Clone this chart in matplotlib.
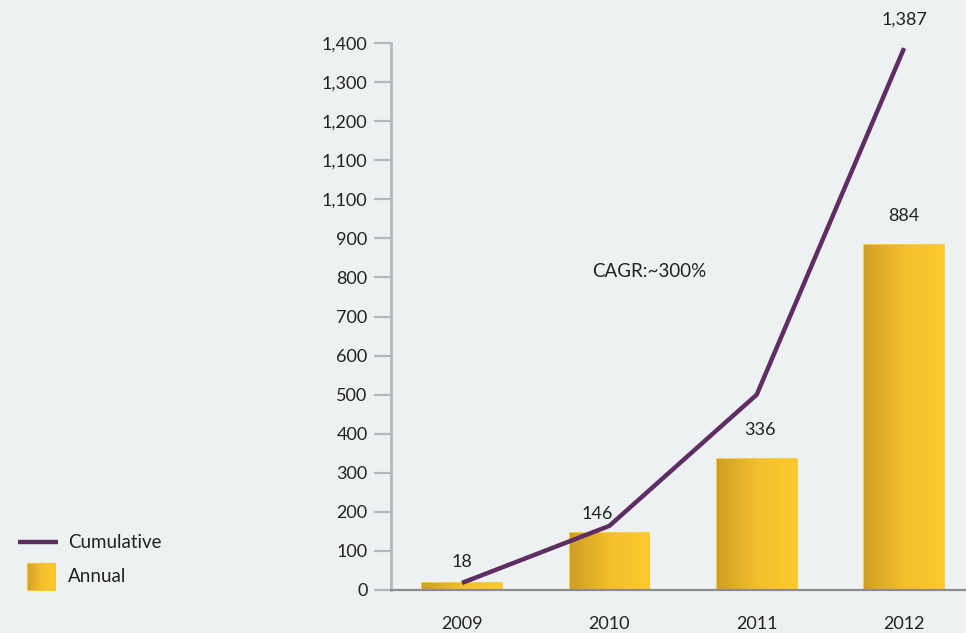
import matplotlib.pyplot as plt
import numpy as np
from matplotlib.lines import Line2D
from matplotlib.colors import LinearSegmentedColormap

# Data
years = ['2009', '2010', '2011', '2012']
annual = [18, 146, 336, 884]
cumulative = [18, 164, 500, 1387]
annual_labels = ['18', '146', '336', '884']
cum_label = '1,387'
yticks = [0, 100, 200, 300, 400, 500, 600, 700, 800, 900, 1000, 1100, 1200, 1300, 1400]
ytick_labels = ['0', '100', '200', '300', '400', '500', '600', '700', '800', '900',
                '1,100', '1,100', '1,200', '1,300', '1,400']

plt.rcParams['font.family'] = ['Lato', 'DejaVu Sans']
bg = '#eef1f2'
purple = '#5e2d62'
txt = '#222222'

fig = plt.figure(figsize=(9.66, 6.33), dpi=100, facecolor=bg)
ax = fig.add_axes([0.405, 0.068, 0.595, 0.864], facecolor=bg)

x = np.arange(len(years))
bars = ax.bar(x, annual, width=0.54, color='#f0bb2a', edgecolor='#f7c62c', linewidth=1.2, zorder=2)

# gradient fill on bars
grad = np.linspace(0, 1, 256).reshape(1, -1)
cmap = LinearSegmentedColormap.from_list('g', ['#cf9f25', '#f3bf2c', '#fec92e'])
for b in bars:
    x0, w, h = b.get_x(), b.get_width(), b.get_height()
    im = ax.imshow(grad, cmap=cmap, extent=[x0, x0 + w, 0, h], aspect='auto', zorder=2.5)
    im.set_clip_path(b)

ax.plot(x, cumulative, color=purple, linewidth=3.2, solid_capstyle='butt', zorder=3)

# value labels
label_dx = [0, -0.08, 0.02, 0]
label_y = [72, 195, 410, 958]
for i, lab in enumerate(annual_labels):
    ax.text(x[i] + label_dx[i], label_y[i], lab, ha='center', va='center', fontsize=13, color=txt)
ax.text(x[3], 1460, cum_label, ha='center', va='center', fontsize=13, color=txt, clip_on=False)
ax.text(0.885, 814, 'CAGR:~300%', ha='left', va='center', fontsize=13.5, color=txt)

ax.set_xlim(-0.48, 3.42)
ax.set_ylim(0, 1400)
ax.set_yticks(yticks)
ax.set_yticklabels(ytick_labels, fontsize=13, color=txt)
ax.set_xticks(x)
ax.set_xticklabels(years, fontsize=13, color=txt)
ax.tick_params(axis='x', length=0, pad=19)
ax.tick_params(axis='y', length=12, width=1.6, color='#b5b8ba', pad=5)

for s in ['top', 'right']:
    ax.spines[s].set_visible(False)
ax.spines['left'].set_color('#b5b8ba')
ax.spines['left'].set_linewidth(2)
ax.spines['bottom'].set_color('#8a8c8e')
ax.spines['bottom'].set_linewidth(1.6)

# legend drawn by hand (square gradient swatch)
fig.add_artist(Line2D([18 / 966, 58 / 966], [1 - 542 / 633] * 2, transform=fig.transFigure,
                      color=purple, linewidth=3.2, solid_capstyle='butt'))
sw = fig.add_axes([27 / 966, 1 - 590 / 633, 28 / 966, 27 / 633])
sw.imshow(grad, cmap=cmap, aspect='auto')
sw.set_xticks([])
sw.set_yticks([])
for s in sw.spines.values():
    s.set_color('#f7c62c')
fig.text(68 / 966, 1 - 542 / 633, 'Cumulative', ha='left', va='center', fontsize=13.5, color=txt)
fig.text(68 / 966, 1 - 577 / 633, 'Annual', ha='left', va='center', fontsize=13.5, color=txt)

fig.savefig('out.png', dpi=100, facecolor=bg)
